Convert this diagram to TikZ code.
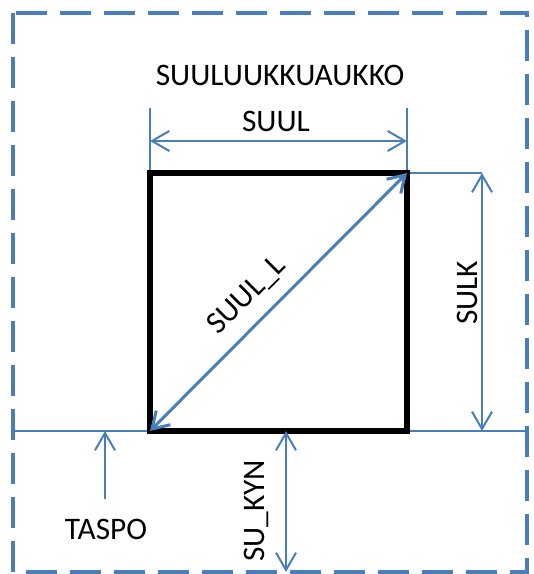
\documentclass[tikz,border=0pt]{standalone}
\usepackage{fontspec}
\setmainfont{Carlito}
\usetikzlibrary{arrows.meta}
\definecolor{dimblue}{HTML}{4A7EBB}
\begin{document}
\begin{tikzpicture}[x=0.75pt,y=0.75pt,
  frame/.style={draw=dimblue, line width=2.6pt, dash pattern=on 23pt off 10pt},
  dimline/.style={draw=dimblue, line width=1.5pt},
  thinline/.style={draw=dimblue, line width=1pt},
  dimarrow/.style={dimline, {Straight Barb[length=13pt,width=15pt]}-{Straight Barb[length=13pt,width=15pt]}},
  diagarrow/.style={draw=dimblue, line width=2.25pt, {Straight Barb[length=12pt,width=15pt]}-{Straight Barb[length=12pt,width=15pt]}},
  onearrow/.style={dimline, -{Straight Barb[length=13pt,width=15pt]}},
  boxline/.style={draw=black, line width=4.5pt},
  lbl/.style={font=\fontsize{23.5}{28}\selectfont, inner sep=0pt}]
\useasboundingbox (0,0) rectangle (534,574);
% frame
\coordinate (fTL) at (13,561);
\coordinate (fBR) at (527,2);
\draw[frame] (fTL) rectangle (fBR);
% square corners
\coordinate (BL) at (150,143);
\coordinate (BR) at (407,143);
\coordinate (TL) at (150,401);
\coordinate (TR) at (407,401);
% ground line
\coordinate (gL) at (13,143);
\coordinate (gR) at (527,143);
\draw[thinline] (gL) -- (gR);
% extension lines
\coordinate (eL) at (150,466);
\coordinate (eR) at (407,466);
\coordinate (suulL) at (150,433);
\coordinate (suulR) at (407,433);
\coordinate (sulkT) at (482,401);
\coordinate (sulkB) at (482,143);
\draw[dimline] (TL) -- (eL);
\draw[dimline] (TR) -- (eR);
\draw[dimline] (TR) -- (sulkT);
\draw[dimline] (BR) -- (sulkB);
% square
\draw[boxline, line join=miter] (BL) -- (TL) -- (TR) -- (BR) -- cycle;
% dimension arrows
\draw[dimarrow] (suulL) -- (suulR);
\draw[dimarrow] (sulkT) -- (sulkB);
\draw[diagarrow] (BL) -- (TR);
\coordinate (kynT) at (286,143);
\coordinate (kynB) at (286,2);
\draw[dimarrow] (kynT) -- (kynB);
\coordinate (taspoT) at (105,143);
\coordinate (taspoB) at (105,75);
\draw[onearrow] (taspoB) -- (taspoT);
% labels
\node[lbl] (title) at (280,499) {SUULUUKKUAUKKO};
\node[lbl] (suul) at (276,453) {SUUL};
\node[lbl, rotate=90] (sulk) at (467,281) {SULK};
\node[lbl, rotate=45] (suulLbl) at (247,278) {SUUL\_L};
\node[lbl] (taspo) at (106,45) {TASPO};
\node[lbl, rotate=90] (kyn) at (256,63) {SU\_KYN};
\end{tikzpicture}
\end{document}
